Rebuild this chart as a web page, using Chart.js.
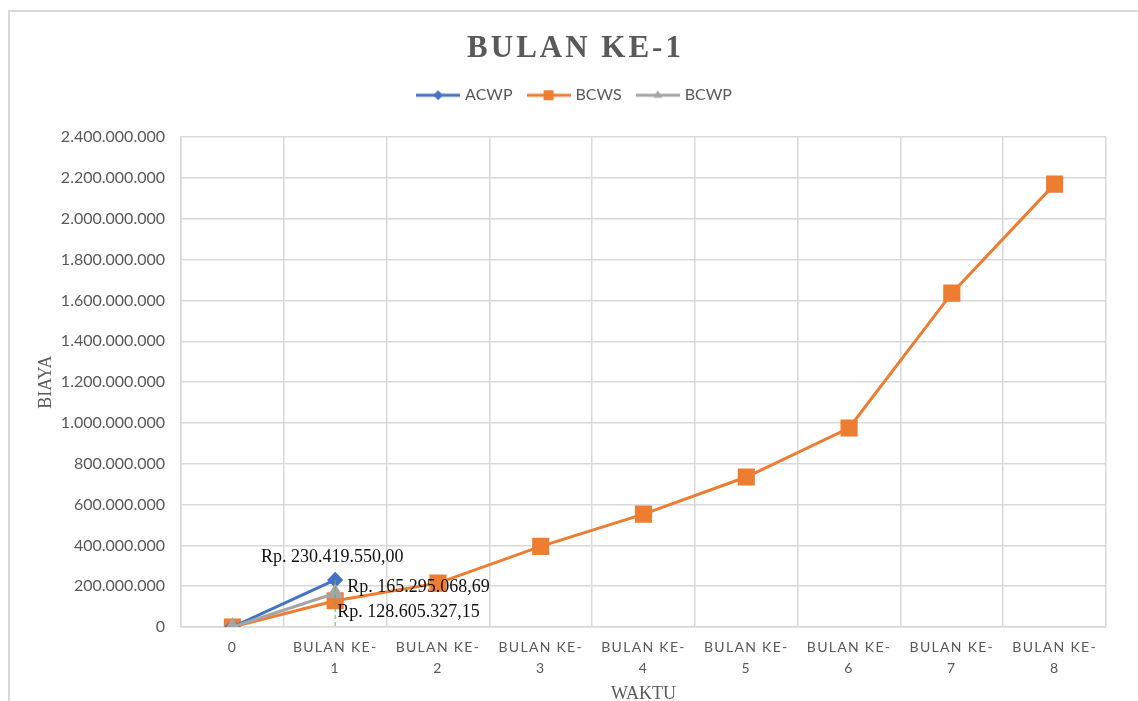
<!DOCTYPE html>
<html>
<head>
<meta charset="utf-8">
<title>BULAN KE-1</title>
<script src="https://cdn.jsdelivr.net/npm/chart.js@4.4.0/dist/chart.umd.min.js"></script>
<style>
  html, body { margin: 0; padding: 0; background: #fff; overflow: hidden; }
  #bingkai {
    position: absolute; left: 8px; top: 10px;
    width: 1131px; height: 700px;
    border-left: 2px solid #d9d9d9; border-top: 2px solid #d9d9d9;
  }
</style>
</head>
<body>
<div id="bingkai"><canvas id="grafik"></canvas></div>
<script>
// --- DATA ---
const WAKTU = ['0', ['BULAN KE-', '1'], ['BULAN KE-', '2'], ['BULAN KE-', '3'], ['BULAN KE-', '4'],
               ['BULAN KE-', '5'], ['BULAN KE-', '6'], ['BULAN KE-', '7'], ['BULAN KE-', '8']];
const ACWP = [0, 230419550.00];
const BCWS = [0, 128605327.15, 215000000, 395000000, 553000000, 735000000, 975000000, 1636000000, 2170000000];
const BCWP = [0, 165295068.69];
const BIAYA_MIN = 0;
const BIAYA_MAX = 2400000000;
const BIAYA_STEP = 200000000;

const ABU = '#595959';
const GRID = '#d9d9d9';

// --- FORMAT ANGKA ---
function formatTitik(n) {
    return String(n).replace(/\B(?=(\d{3})+(?!\d))/g, '.');
}
function formatRupiah(v) {
    const [bulat, desimal] = v.toFixed(2).split('.');
    return 'Rp. ' + formatTitik(bulat) + ',' + desimal;
}

// --- IKON LEGENDA (garis + penanda ala Excel) ---
function buatIkon(warna, bentuk, radius) {
    const c = document.createElement('canvas');
    c.width = 44; c.height = 16;
    const ctx = c.getContext('2d');
    ctx.strokeStyle = warna;
    ctx.lineWidth = 3;
    ctx.beginPath(); ctx.moveTo(0, 8); ctx.lineTo(44, 8); ctx.stroke();
    ctx.fillStyle = warna;
    Chart.helpers.drawPoint(ctx, { pointStyle: bentuk, radius: radius, rotation: 0, borderWidth: 0 }, 22, 8);
    return c;
}
const IKON = [buatIkon('#4472C4', 'rectRot', 5), buatIkon('#ED7D31', 'rect', 7), buatIkon('#A5A5A5', 'triangle', 5)];

// --- JARAK HURUF (judul & label sumbu X) ---
function beriSpasi(obj, metode, jarak) {
    const asli = obj[metode];
    obj[metode] = function (...args) {
        this.ctx.save();
        this.ctx.letterSpacing = jarak;
        asli.apply(this, args);
        this.ctx.restore();
    };
}
const pluginSpasi = {
    id: 'spasi',
    beforeLayout(chart) {
        if (chart.$spasi) return;
        chart.$spasi = true;
        const fitAsli = chart.legend.fit;
        chart.legend.fit = function () {
            fitAsli.call(this);
            this.height += 24; // ruang antara legenda dan area plot
        };
        beriSpasi(chart.titleBlock, 'draw', '3px');
        beriSpasi(chart.scales.x, 'drawLabels', '1.3px');
    }
};

// --- LABEL NILAI + GARIS PUTUS-PUTUS ---
const LABEL_NILAI = [
    { seri: 0, indeks: 1, dx: -3, dy: -23, align: 'center' },
    { seri: 2, indeks: 1, dx: 12, dy: -6, align: 'left' },
    { seri: 1, indeks: 1, dx: 2, dy: 12, align: 'left' }
];
const pluginLabel = {
    id: 'labelNilai',
    afterDatasetsDraw(chart) {
        const ctx = chart.ctx;
        const sx = chart.scales.x, sy = chart.scales.y;

        // garis bantu hijau dari titik ACWP ke sumbu
        ctx.save();
        ctx.strokeStyle = '#70AD47';
        ctx.lineWidth = 1;
        ctx.setLineDash([4, 3]);
        ctx.beginPath();
        ctx.moveTo(sx.getPixelForValue(1), sy.getPixelForValue(ACWP[1]));
        ctx.lineTo(sx.getPixelForValue(1), sy.getPixelForValue(0) + 2);
        ctx.stroke();
        ctx.restore();

        ctx.save();
        ctx.font = '18px "Liberation Serif", "Times New Roman", serif';
        ctx.fillStyle = '#111';
        ctx.textBaseline = 'middle';
        LABEL_NILAI.forEach(l => {
            const titik = chart.getDatasetMeta(l.seri).data[l.indeks];
            const nilai = chart.data.datasets[l.seri].data[l.indeks];
            ctx.textAlign = l.align;
            ctx.fillText(formatRupiah(nilai), titik.x + l.dx, titik.y + l.dy);
        });
        ctx.restore();
    }
};

// --- GRAFIK ---
Chart.defaults.font.family = 'Lato, "Open Sans", sans-serif';
Chart.defaults.color = ABU;

const serif = '"Liberation Serif", "Times New Roman", serif';

new Chart(document.getElementById('grafik'), {
    type: 'line',
    data: {
        labels: WAKTU,
        datasets: [
            { label: 'ACWP', data: ACWP, borderColor: '#4472C4', backgroundColor: '#4472C4',
              borderWidth: 3, pointStyle: 'rectRot', pointRadius: 6, order: 2 },
            { label: 'BCWS', data: BCWS, borderColor: '#ED7D31', backgroundColor: '#ED7D31',
              borderWidth: 3, pointStyle: 'rect', pointRadius: 10, order: 3 },
            { label: 'BCWP', data: BCWP, borderColor: '#A5A5A5', backgroundColor: '#A5A5A5',
              borderWidth: 3, pointStyle: 'triangle', pointRadius: 7, order: 1 }
        ]
    },
    options: {
        responsive: true,
        maintainAspectRatio: false,
        animation: false,
        events: [],
        layout: { padding: { left: 35, right: 35, top: 0, bottom: 3 } },
        plugins: {
            tooltip: { enabled: false },
            title: {
                display: true,
                text: 'BULAN KE-1',
                color: ABU,
                font: { family: serif, size: 31, weight: 'bold', lineHeight: 1.2 },
                padding: { top: 18, bottom: 3 }
            },
            legend: {
                position: 'top',
                labels: {
                    usePointStyle: true,
                    pointStyleWidth: 38,
                    padding: 17,
                    color: ABU,
                    font: { size: 16 },
                    generateLabels(chart) {
                        const item = Chart.defaults.plugins.legend.labels.generateLabels(chart);
                        item.sort((a, b) => a.datasetIndex - b.datasetIndex);
                        item.forEach(it => { it.pointStyle = IKON[it.datasetIndex]; });
                        return item;
                    }
                }
            }
        },
        scales: {
            x: {
                offset: true,
                grid: { offset: true, color: GRID, lineWidth: 1.5, drawTicks: false },
                border: { color: GRID, width: 1.5 },
                ticks: { color: ABU, font: { size: 14, lineHeight: 1.5 }, padding: 10, maxRotation: 0, autoSkip: false },
                title: { display: true, text: 'WAKTU', color: ABU, font: { family: serif, size: 18 } },
                afterFit: s => { s.height = 82; }
            },
            y: {
                min: BIAYA_MIN,
                max: BIAYA_MAX,
                grid: { color: GRID, lineWidth: 1.5, drawTicks: false },
                border: { color: GRID, width: 1.5 },
                ticks: { stepSize: BIAYA_STEP, color: ABU, font: { size: 16 }, padding: 16,
                         callback: v => formatTitik(v) },
                title: { display: true, text: 'BIAYA', color: ABU, font: { family: serif, size: 18 },
                         padding: { top: -10, bottom: 0 } },
                afterFit: s => { s.width = 136; }
            }
        }
    },
    plugins: [pluginSpasi, pluginLabel]
});
</script>
</body>
</html>
